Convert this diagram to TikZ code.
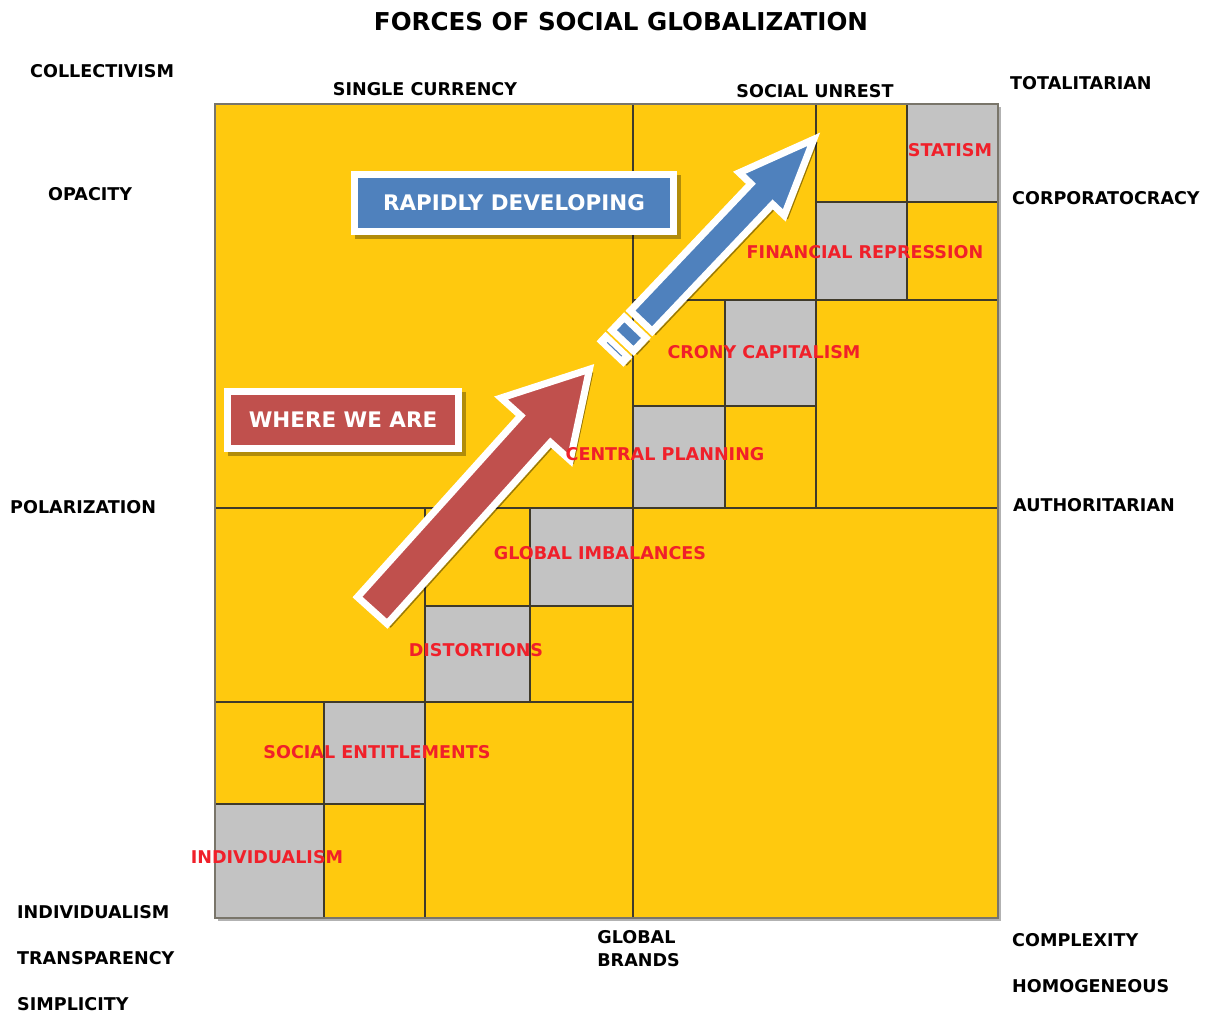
\documentclass[tikz,border=0pt]{standalone}
\usepackage{fontspec}
\setmainfont{DejaVu Sans}
\usepackage{tikz}
\usetikzlibrary{positioning}
\definecolor{gridyellow}{HTML}{FFC90E}
\definecolor{cellgray}{HTML}{C3C3C3}
\definecolor{gridline}{HTML}{3F3A2A}
\definecolor{forcered}{HTML}{F0202A}
\definecolor{boxblue}{HTML}{4F81BD}
\definecolor{boxred}{HTML}{C0504D}

\tikzset{
  shadowed/.style={preaction={draw=black, fill=black, opacity=0.3, transform canvas={xshift=2pt, yshift=-2pt}}},
  axislabel/.style={font=\fontsize{10}{13}\selectfont\bfseries, text=black},
  forcelabel/.style={font=\fontsize{10}{12}\selectfont\bfseries, text=forcered},
  badge/.style={draw=white, line width=4pt, text=white, inner sep=0pt, shadowed, font=\fontsize{12.2}{14}\selectfont\bfseries},
  arrowbody/.style={draw=white, line width=4pt, line join=miter, shadowed},
}

\begin{document}
\begin{tikzpicture}[x=0.02cm, y=-0.02cm]
  \useasboundingbox (0,0) rectangle (1211,1015);

  \node[font=\fontsize{14}{16}\selectfont\bfseries] (title) at (621,22) {FORCES OF SOCIAL GLOBALIZATION};

  % The grid - yellow field with grey steps along the diagonal
  \fill[gridyellow, preaction={fill=black, opacity=0.3, transform canvas={xshift=1.5pt, yshift=-1.5pt}}] (215,104) rectangle (998,918);
  \foreach \xa/\ya/\xb/\yb in {907/104/998/202, 816/202/907/300, 725/300/816/406, 633/406/725/508,
                               530/508/633/606, 425/606/530/702, 324/702/425/804, 215/804/324/918}
    \fill[cellgray] (\xa,\ya) rectangle (\xb,\yb);
  % Cell borders
  \foreach \xa/\ya/\xb/\yb in {633/104/633/918, 816/104/816/508, 907/104/907/300, 725/300/725/508,
                               425/508/425/918, 530/508/530/702, 324/702/324/918,
                               215/508/998/508, 633/300/998/300, 816/202/998/202, 633/406/816/406,
                               215/702/633/702, 425/606/633/606, 215/804/425/804}
    \draw[gridline, line width=0.8pt] (\xa,\ya) -- (\xb,\yb);
  \draw[gridline!70, line width=1pt] (215,104) rectangle (998,918);

  % Arrows
  \begin{scope}[shift={(370,613)}, rotate=48]
    \draw[arrowbody, fill=boxred] (3.5,-20) -- (247.5,-20) -- (247.5,-46.5) -- (328,0)
      -- (247.5,46.5) -- (247.5,20) -- (3.5,20) -- cycle;
  \end{scope}
  \begin{scope}[shift={(610,354)}, rotate=46.5]
    \draw[arrowbody, fill=white] (3.5,-15) rectangle (9.5,15);
    \draw[boxblue, line width=0.6pt] (6.5,-10) -- (6.5,10);
    \draw[arrowbody, fill=boxblue] (18.5,-15) rectangle (36.5,15);
    \draw[arrowbody, fill=boxblue] (45.5,-15) -- (220.5,-15) -- (220.5,-31) -- (296,0)
      -- (220.5,31) -- (220.5,15) -- (45.5,15) -- cycle;
  \end{scope}

  % Badges
  \node[badge, fill=boxblue, minimum width=6.38cm, minimum height=1.14cm] (rapid) at (514,203) {RAPIDLY DEVELOPING};
  \node[badge, fill=boxred, minimum width=4.62cm, minimum height=1.14cm] (where) at (343,420) {WHERE WE ARE};

  % Forces along the diagonal
  \node[forcelabel] (statism) at (950,150) {STATISM};
  \node[forcelabel] (finrep) at (865,252) {FINANCIAL REPRESSION};
  \node[forcelabel] (crony) at (764,352) {CRONY CAPITALISM};
  \node[forcelabel] (central) at (665,454) {CENTRAL PLANNING};
  \node[forcelabel] (imbal) at (600,553) {GLOBAL IMBALANCES};
  \node[forcelabel] (distort) at (476,650) {DISTORTIONS};
  \node[forcelabel] (entitle) at (377,752) {SOCIAL ENTITLEMENTS};
  \node[forcelabel] (indiv) at (267,857) {INDIVIDUALISM};

  % Axis labels - left
  \node[axislabel, anchor=west] (collect) at (24,71) {COLLECTIVISM};
  \node[axislabel, anchor=west] (opacity) at (42,194) {OPACITY};
  \node[axislabel, anchor=west] (polar) at (4,507) {POLARIZATION};
  \node[axislabel, anchor=west] (individ) at (11,912) {INDIVIDUALISM};
  \node[axislabel, anchor=west] (transp) at (11,958) {TRANSPARENCY};
  \node[axislabel, anchor=west] (simpl) at (11,1004) {SIMPLICITY};
  % Axis labels - top and bottom
  \node[axislabel] (currency) at (425,89) {SINGLE CURRENCY};
  \node[axislabel] (unrest) at (815,91) {SOCIAL UNREST};
  \node[axislabel, anchor=north west, align=left, inner sep=0pt] (brands) at (597,930) {GLOBAL\\BRANDS};
  % Axis labels - right
  \node[axislabel, anchor=west] (totalit) at (1004,83) {TOTALITARIAN};
  \node[axislabel, anchor=west] (corpor) at (1006,198) {CORPORATOCRACY};
  \node[axislabel, anchor=west] (author) at (1007,505) {AUTHORITARIAN};
  \node[axislabel, anchor=west] (complex) at (1006,940) {COMPLEXITY};
  \node[axislabel, anchor=west] (homog) at (1006,986) {HOMOGENEOUS};
\end{tikzpicture}
\end{document}
